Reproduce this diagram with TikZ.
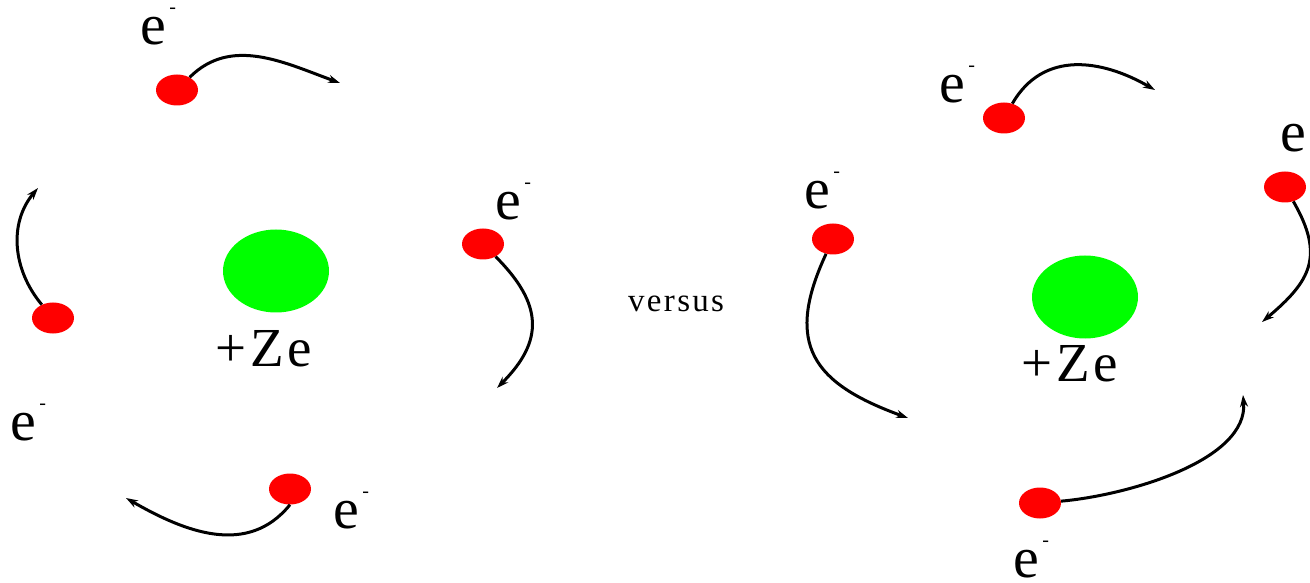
\documentclass[tikz,border=0pt]{standalone}
\usepackage{fontspec}
\setmainfont{Liberation Serif}
\newfontfamily\spaced[LetterSpace=7]{Liberation Serif}
\usetikzlibrary{arrows.meta,shapes.geometric}
\newcommand{\elec}{e\kern3pt\raisebox{31pt}{\fontsize{20pt}{20pt}\selectfont -}}

\begin{document}
\begin{tikzpicture}[x=1pt, y=1pt, >={Stealth[length=12pt,width=8pt]},
  orbit/.style={->, line width=3pt},
  electron/.style={ellipse, fill=red, minimum width=42pt, minimum height=31pt, inner sep=0pt},
  nucleus/.style={ellipse, fill=green, minimum width=106pt, minimum height=83pt, inner sep=0pt},
  elabel/.style={anchor=base west, inner sep=0pt, font=\fontsize{58pt}{58pt}\selectfont},
  charge/.style={anchor=base west, inner sep=0pt, font=\spaced\fontsize{55pt}{55pt}\selectfont}]

  \useasboundingbox (0,0) rectangle (1310,582);
  \clip (0,0) rectangle (1310,582);

  % left atom
  \node[nucleus] (N1) at (276,311) {};
  \node[charge] (Z1) at (215,216) {+Ze};
  \node[electron] (e1) at (177,492) {};
  \node[electron] (e2) at (53,264) {};
  \node[electron] (e3) at (290,93) {};
  \node[electron] (e4) at (483,338) {};
  \node[elabel] (l1) at (140.5,537) {\elec};
  \node[elabel] (l2) at (10.5,142) {\elec};
  \node[elabel] (l3) at (333.5,54) {\elec};
  \node[elabel] (l4) at (495.5,362) {\elec};
  \coordinate (c1) at (340,499);
  \coordinate (c2) at (38,394);
  \coordinate (c3) at (126,84);
  \coordinate (c4) at (497,194);

  \node[anchor=base west, inner sep=0pt, font=\spaced\fontsize{33pt}{33pt}\selectfont] (vs) at (628,270) {versus};

  % right atom
  \node[nucleus] (N2) at (1085,285) {};
  \node[charge] (Z2) at (1021,201) {+Ze};
  \node[electron] (ea) at (1004,464) {};
  \node[electron] (eb) at (1285,395) {};
  \node[electron] (ec) at (833,343) {};
  \node[electron] (ed) at (1040,79) {};
  \node[elabel] (la) at (939.5,479) {\elec};
  \node[elabel] (lb) at (1280.5,430) {\elec};
  \node[elabel] (lc) at (804.5,373) {\elec};
  \node[elabel] (ld) at (1013.5,5) {\elec};
  \coordinate (ca) at (1155,492);
  \coordinate (cb) at (1262,260);
  \coordinate (cc) at (908,164);
  \coordinate (cd) at (1243,187);

  \path (e1) edge[orbit, out=45, in=160] (c1)
        (e2) edge[orbit, out=130, in=230] (c2)
        (e3.south) edge[orbit, out=231, in=-30, looseness=1.05] (c3)
        (e4) edge[orbit, out=-45, in=45, looseness=1.3] (c4)
        (ea) edge[orbit, out=60, in=150, looseness=1.1] (ca)
        (eb) edge[orbit, out=-60, in=40, looseness=1.3] (cb)
        (ec) edge[orbit, out=245, in=160, looseness=1.4] (cc)
        (ed) edge[orbit, out=5, in=-85, looseness=0.8] (cd);

\end{tikzpicture}
\end{document}
